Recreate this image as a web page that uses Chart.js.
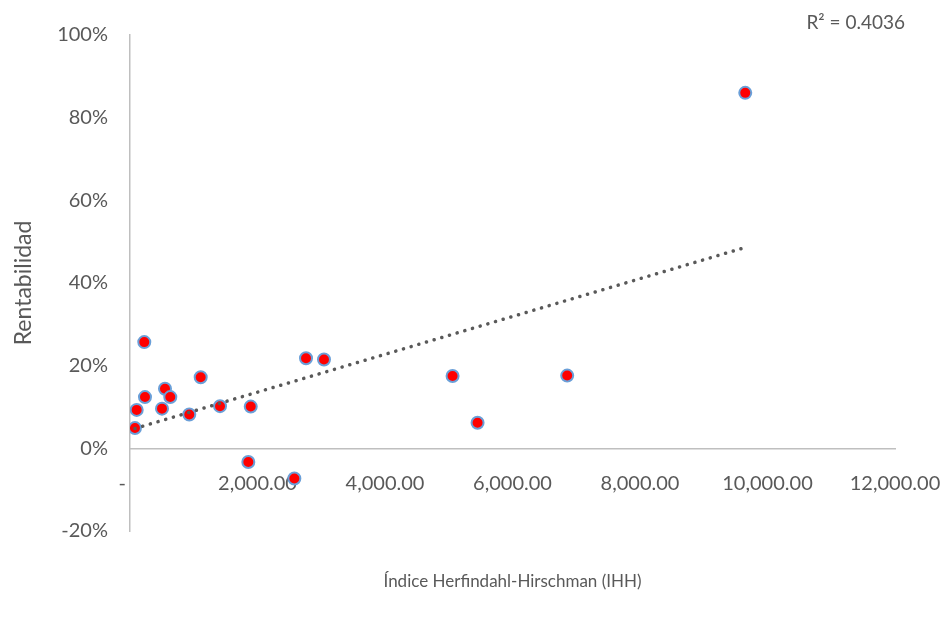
<!DOCTYPE html>
<html>
<head>
<meta charset="utf-8">
<script src="https://cdn.jsdelivr.net/npm/chart.js@4"></script>
<style>
  html, body { margin: 0; padding: 0; background: #fff; }
  #wrap { width: 943px; height: 621px; }
</style>
</head>
<body>
<div id="wrap"><canvas id="ihhChart" width="943" height="621"></canvas></div>
<script>
// IHH vs rentabilidad
const ihh = [78, 105, 224, 235, 502, 549, 632, 930, 1109, 1412, 1856, 1894, 2578, 2761, 3043, 5060, 5452, 6858, 9651];
const rentabilidad = [4.9, 9.3, 25.7, 12.4, 9.6, 14.4, 12.4, 8.2, 17.2, 10.2, -3.3, 10.1, -7.3, 21.8, 21.5, 17.5, 6.2, 17.6, 86.0];

// linear trendline end points (dotted line)
const trendX = [78, 9651];
const trendY = [4.8, 48.6];
const r2Label = 'R\u00b2 = 0.4036';

const xTicks = [0, 2000, 4000, 6000, 8000, 10000, 12000];
const yTicks = [-20, 0, 20, 40, 60, 80, 100];

const textColor = '#595959';
const fontFamily = 'Lato, "Open Sans", sans-serif';

// R² label drawn above the plot, top right
const r2Plugin = {
    id: 'r2Plugin',
    afterDraw(chart) {
        const ctx = chart.ctx;
        const area = chart.chartArea;
        ctx.save();
        ctx.fillStyle = textColor;
        ctx.font = '19px ' + fontFamily;
        ctx.textAlign = 'right';
        ctx.textBaseline = 'middle';
        ctx.fillText(r2Label, area.right + 10, area.top - 12);
        ctx.restore();
    }
};

window.onload = function () {
    const ctx = document.getElementById('ihhChart').getContext('2d');

    const points = ihh.map((x, i) => ({ x: x, y: rentabilidad[i] }));
    const trend = trendX.map((x, i) => ({ x: x, y: trendY[i] }));

    new Chart(ctx, {
        type: 'scatter',
        data: {
            datasets: [{
                type: 'line',
                label: 'Tendencia',
                data: trend,
                borderColor: '#595959',
                borderWidth: 3.5,
                borderDash: [0.1, 7.9],
                borderCapStyle: 'round',
                pointRadius: 0,
                fill: false,
                order: 0
            }, {
                label: 'Rentabilidad',
                data: points,
                backgroundColor: '#ff0000',
                borderColor: '#6a9fd8',
                borderWidth: 2,
                pointRadius: 6,
                pointHoverRadius: 6,
                order: 1
            }]
        },
        options: {
            responsive: false,
            animation: false,
            layout: { padding: { top: 35, right: 48, bottom: 0, left: 0 } },
            plugins: {
                legend: { display: false },
                tooltip: { enabled: false }
            },
            scales: {
                x: {
                    type: 'linear',
                    position: { y: 0 },
                    min: 0,
                    max: 12000,
                    afterBuildTicks: function (axis) {
                        axis.ticks = xTicks.map(v => ({ value: v }));
                    },
                    afterFit: function (axis) {
                        axis.height = 0;
                        axis.paddingLeft = 0;
                        axis.paddingRight = 0;
                    },
                    grid: { display: false, drawTicks: false },
                    border: { display: true, color: '#bfbfbf', width: 1.5 },
                    ticks: {
                        padding: 23,
                        maxRotation: 0,
                        autoSkip: false,
                        color: textColor,
                        font: { family: fontFamily, size: 20 },
                        callback: function (v) {
                            if (v === 0) return '-   ';
                            return v.toLocaleString('en-US', { minimumFractionDigits: 2, maximumFractionDigits: 2 });
                        }
                    }
                },
                xTitle: {
                    type: 'linear',
                    axis: 'x',
                    position: 'bottom',
                    min: 0,
                    max: 12000,
                    afterFit: function (axis) {
                        axis.height = 90;
                        axis.paddingLeft = 0;
                        axis.paddingRight = 0;
                    },
                    grid: { display: false, drawTicks: false },
                    border: { display: false },
                    ticks: { display: false },
                    title: {
                        display: true,
                        text: 'Índice Herfindahl-Hirschman (IHH)',
                        color: textColor,
                        font: { family: fontFamily, size: 17 },
                        padding: { top: 0, bottom: 29 }
                    }
                },
                y: {
                    type: 'linear',
                    min: -20,
                    max: 100,
                    afterBuildTicks: function (axis) {
                        axis.ticks = yTicks.map(v => ({ value: v }));
                    },
                    afterFit: function (axis) { axis.width = 130; },
                    grid: { display: false, drawTicks: false },
                    border: { display: true, color: '#bfbfbf', width: 1.5 },
                    ticks: {
                        padding: 22,
                        color: textColor,
                        font: { family: fontFamily, size: 20 },
                        callback: function (v) { return v + '%'; }
                    },
                    title: {
                        display: true,
                        text: 'Rentabilidad',
                        color: textColor,
                        font: { family: fontFamily, size: 23 },
                        padding: { top: 10, bottom: 0 }
                    }
                }
            }
        },
        plugins: [r2Plugin]
    });
};
</script>
</body>
</html>
